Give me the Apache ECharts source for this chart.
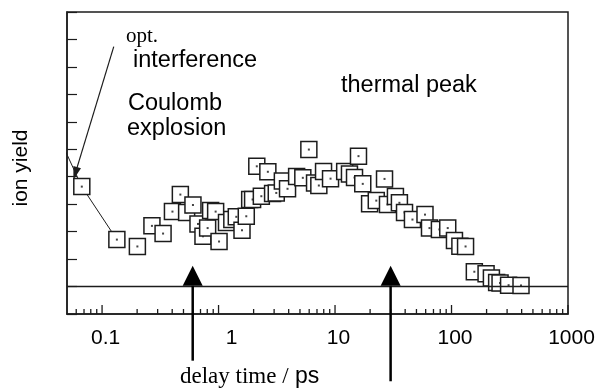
<!DOCTYPE html>
<html>
<head>
<meta charset="utf-8">
<style>
  html, body { margin: 0; padding: 0; background: #fff; }
  #chart { width: 602px; height: 392px; }
</style>
<script src="https://cdn.jsdelivr.net/npm/echarts@6/dist/echarts.min.js"></script>
</head>
<body>
<div id="chart"></div>
<script>
// Pump-probe delay (ps) and measured ion yield (arb. units)
const delays = [0.067, 0.134, 0.201, 0.268, 0.334, 0.402, 0.470, 0.532, 0.603, 0.666,
  0.735, 0.806, 0.855, 0.944, 1.01, 1.17, 1.30, 1.42, 1.59, 1.73,
  1.85, 1.96, 2.13, 2.33, 2.65, 2.91, 3.13, 3.53, 3.91, 4.68,
  5.29, 5.96, 6.67, 7.26, 7.97, 9.15, 12.1, 13.3, 14.7, 15.9,
  17.3, 19.8, 22.6, 26.6, 28.2, 33.0, 35.7, 39.5, 46.2, 59.2,
  64.7, 78.7, 92.8, 106, 118, 132, 157, 198, 220, 244,
  261, 309, 395];
const yields = [3.64, 1.71, 1.46, 2.21, 1.93, 2.73, 3.35, 2.70, 2.97, 2.28,
  1.83, 2.13, 2.77, 2.73, 1.64, 2.33, 2.44, 2.54, 2.05, 2.56,
  3.17, 3.17, 4.38, 3.29, 4.18, 3.39, 3.41, 3.84, 3.56, 4.01,
  3.96, 4.99, 3.77, 3.68, 4.19, 3.93, 4.19, 4.10, 3.97, 4.75,
  3.74, 3.02, 3.13, 3.92, 2.99, 3.28, 3.05, 2.70, 2.44, 2.62,
  2.13, 2.08, 2.13, 1.68, 1.47, 1.46, 0.54, 0.47, 0.31, 0.15,
  0.13, 0.05, 0.04];

// Connecting line through the earliest delays (first one lies left of the axis)
const guideDelays = [0.04, 0.067, 0.134];
const guideYields = [5.7, 3.64, 1.71];

// Axis ticks
const xTickValues = [0.1, 1, 10, 100, 1000];
const xTickLabels = ['0.1', '1', '10', '100', '1000'];
const xMinorTicks = [];
[0.01, 0.1, 1, 10, 100].forEach(function (dec) {
  for (let k = 2; k <= 9; k++) {
    const v = +(k * dec).toPrecision(3);
    if (v > 0.05 && v < 1000) xMinorTicks.push(v);
  }
});

// Arrow markers: delays where the two features are indicated
const markerDelays = [0.6, 30];

const INK = '#1c1c1c';
const SANS = '"Liberation Sans", Arial, sans-serif';
const SERIF = '"Liberation Serif", "Times New Roman", serif';

const chart = echarts.init(document.getElementById('chart'), null, { renderer: 'canvas' });

const points = delays.map(function (d, i) { return [d, yields[i]]; });
const guide = guideDelays.map(function (d, i) { return [d, guideYields[i]]; });

function tickLabel(v) {
  for (let i = 0; i < xTickValues.length; i++) {
    if (Math.abs(Math.log10(v) - Math.log10(xTickValues[i])) < 1e-6) {
      return xTickLabels[i] === '1' ? '{one|1}' : '{d|' + xTickLabels[i] + '}';
    }
  }
  return '';
}

chart.setOption({
  animation: false,
  backgroundColor: '#fff',
  grid: {
    left: 67, top: 12, right: 34, bottom: 78,
    show: true, borderColor: INK, borderWidth: 1.5
  },
  xAxis: {
    type: 'log',
    logBase: 10,
    min: 0.05,
    max: 1000,
    axisLine: { show: true, onZero: false, lineStyle: { color: INK, width: 1.5 } },
    axisTick: { show: false },
    splitLine: { show: false },
    axisLabel: {
      color: '#000', fontFamily: SANS, fontSize: 21, margin: 14,
      formatter: tickLabel,
      rich: {
        one: { padding: [0, 0, 0, 26] },
        d: { padding: [0, 0, 0, 7] }
      }
    }
  },
  yAxis: {
    type: 'value',
    min: -1,
    max: 10,
    interval: 1,
    axisLine: { show: true, onZero: false, lineStyle: { color: INK, width: 1.5 } },
    axisTick: { show: true, inside: true, length: 10, lineStyle: { color: INK, width: 1.2 } },
    axisLabel: { show: false },
    splitLine: { show: false }
  },
  series: [
    {
      name: 'guide',
      type: 'line',
      data: guide,
      symbol: 'none',
      clip: true,
      lineStyle: { color: INK, width: 1 },
      z: 2,
      markLine: {
        silent: true,
        animation: false,
        label: { show: false },
        data: [
          [
            { coord: [0.05, 0], symbol: 'none', lineStyle: { color: INK, width: 1.3, type: 'solid' } },
            { coord: [1000, 0], symbol: 'none' }
          ],
          [
            { coord: [0.126, 8.74], symbol: 'none', lineStyle: { color: INK, width: 1.2, type: 'solid' } },
            { coord: [0.0589, 4.12], symbol: 'triangle', symbolSize: [8, 13] }
          ]
        ],
        itemStyle: { color: INK },
        emphasis: { disabled: true }
      }
    },
    {
      name: 'ion yield',
      type: 'custom',
      data: points,
      clip: true,
      z: 3,
      renderItem: function (params, api) {
        const p = api.coord([api.value(0), api.value(1)]);
        const s = 16;
        return {
          type: 'group',
          children: [
            {
              type: 'rect',
              shape: { x: p[0] - s / 2, y: p[1] - s / 2, width: s, height: s },
              style: { fill: '#fff', stroke: INK, lineWidth: 1.5 }
            },
            {
              type: 'rect',
              shape: { x: p[0] - 1, y: p[1] - 1, width: 2, height: 2 },
              style: { fill: '#444' }
            }
          ]
        };
      }
    }
  ]
});

// Overlays placed through the axis scales
const axisY = chart.convertToPixel({ gridIndex: 0 }, [1, -1])[1];
const graphics = [];

// x ticks: decades long, intermediate values short, all pointing into the plot
xTickValues.concat(xMinorTicks).forEach(function (v) {
  const px = chart.convertToPixel({ gridIndex: 0 }, [v, -1])[0];
  const len = xTickValues.indexOf(v) >= 0 ? 9 : 5;
  graphics.push({
    type: 'line', silent: true, z: 100,
    shape: { x1: px, y1: axisY, x2: px, y2: axisY - len },
    style: { stroke: INK, lineWidth: 1.3 }
  });
});

const shaftEnds = [-2.7, -3.45];
markerDelays.forEach(function (d, i) {
  const tipPt = chart.convertToPixel({ gridIndex: 0 }, [d, 0.76]);
  const basePt = chart.convertToPixel({ gridIndex: 0 }, [d, 0.03]);
  const endPt = chart.convertToPixel({ gridIndex: 0 }, [d, shaftEnds[i]]);
  const px = tipPt[0];
  graphics.push({
    type: 'polygon', silent: true, z: 100,
    shape: { points: [[px, tipPt[1]], [px - 10, basePt[1]], [px + 10, basePt[1]]] },
    style: { fill: '#000' }
  });
  graphics.push({
    type: 'line', silent: true, z: 100,
    shape: { x1: px, y1: basePt[1], x2: px, y2: endPt[1] },
    style: { stroke: '#000', lineWidth: 2.5 }
  });
});

function label(text, x, y, font, size) {
  return {
    type: 'text', silent: true, z: 100, x: x, y: y,
    style: { text: text, fill: '#000', fontFamily: font, fontSize: size, align: 'left', verticalAlign: 'middle' }
  };
}

graphics.push(label('opt.', 126, 36, SERIF, 21));
graphics.push(label('interference', 133, 61, SANS, 23.5));
graphics.push(label('Coulomb', 128, 104, SANS, 23.5));
graphics.push(label('explosion', 127, 129, SANS, 23.5));
graphics.push(label('thermal peak', 341, 86, SANS, 23.5));

graphics.push({
  type: 'text', silent: true, z: 100, x: 21, y: 168, rotation: Math.PI / 2,
  style: { text: 'ion yield', fill: '#000', fontFamily: SANS, fontSize: 21, align: 'center', verticalAlign: 'middle' }
});

graphics.push({
  type: 'text', silent: true, z: 100, x: 180, y: 377,
  style: {
    text: '{s|delay time /} {p|ps}',
    fill: '#000', fontFamily: SANS, fontSize: 23, align: 'left', verticalAlign: 'middle',
    rich: {
      s: { fontFamily: SERIF, fontSize: 23, fill: '#000' },
      p: { fontFamily: SANS, fontSize: 23, fill: '#000' }
    }
  }
});

chart.setOption({ graphic: graphics });
</script>
</body>
</html>
